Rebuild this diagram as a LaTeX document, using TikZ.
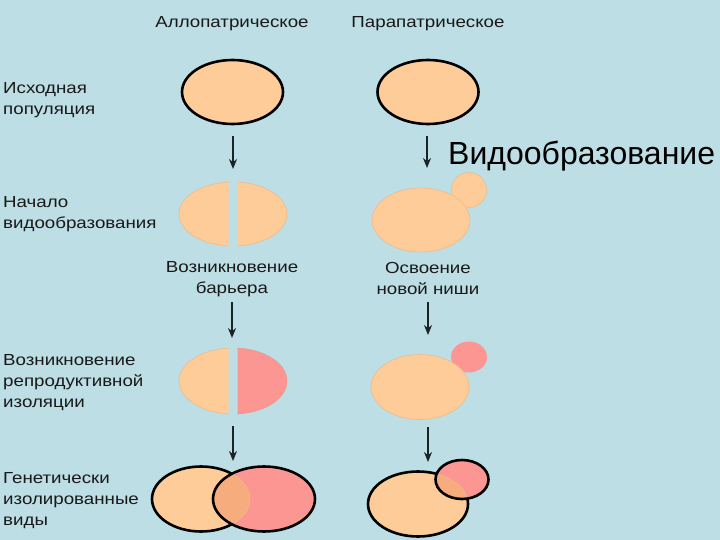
\documentclass[tikz,border=0pt]{standalone}
\usepackage{fontspec}
\setmainfont{Liberation Sans}
\newfontfamily\widesans[FakeStretch=1.17]{Liberation Sans}
\usetikzlibrary{arrows.meta,shapes.geometric}
\definecolor{bg}{RGB}{188,222,228}
\definecolor{org}{RGB}{254,204,153}
\definecolor{pnk}{RGB}{252,150,146}
\definecolor{ovl}{RGB}{246,172,124}
\definecolor{edge}{RGB}{238,186,140}
\definecolor{pedge}{RGB}{236,150,140}
\definecolor{txt}{RGB}{25,25,25}
\definecolor{arc}{RGB}{25,35,40}
\begin{document}
\begin{tikzpicture}[x=1pt,y=-1pt,
  lbl/.style={font=\widesans\fontsize{16}{21}\selectfont, text=txt, align=left, anchor=west, inner sep=0pt},
  head/.style={font=\widesans\fontsize{16}{21}\selectfont, text=txt, align=center, inner sep=0pt},
  captxt/.style={font=\widesans\fontsize{16}{21}\selectfont, text=txt, align=center, inner sep=0pt},
  arr/.style={draw=arc, line width=2pt, -{Stealth[length=10pt,width=8pt]}},
  bold/.style={draw=black, line width=2.6pt},
  thin/.style={draw=edge, line width=0.6pt}]
\fill[bg] (0,0) rectangle (720,540);
\useasboundingbox (0,0) rectangle (720,540);

% headers
\node[head] (hA) at (232,24) {Аллопатрическое};
\node[head] (hP) at (428,24) {Парапатрическое};

% left labels
\node[lbl] (l1) at (3,100.5) {Исходная\\популяция};
\node[lbl] (l2) at (3,214.5) {Начало\\видообразования};
\node[lbl] (l3) at (3,383) {Возникновение\\репродуктивной\\изоляции};
\node[lbl] (l4) at (3,501) {Генетически\\изолированные\\виды};

% title
\node[anchor=base west, inner sep=0pt, font=\fontsize{32}{36}\selectfont, text=black] (title) at (448,165) {Видообразование};

% row 1
\coordinate (A1) at (232.5,92);
\coordinate (P1) at (428,92);
\fill[org] (A1) ellipse [x radius=50.5, y radius=32];
\draw[bold] (A1) ellipse [x radius=50.5, y radius=32];
\fill[org] (P1) ellipse [x radius=50.5, y radius=32];
\draw[bold] (P1) ellipse [x radius=50.5, y radius=32];

% row 2 allo split
\coordinate (A2) at (233,214);
\begin{scope}
  \clip (A2) ++(-60,-40) rectangle ++(55.5,80);
  \fill[org] (A2) ellipse [x radius=54, y radius=32];
  \draw[thin] (A2) ellipse [x radius=54, y radius=32];
\end{scope}
\begin{scope}
  \clip (A2) ++(4.5,-40) rectangle ++(60,80);
  \fill[org] (A2) ellipse [x radius=54, y radius=32];
  \draw[thin] (A2) ellipse [x radius=54, y radius=32];
\end{scope}

% row 2 para
\coordinate (P2) at (421,220);
\coordinate (P2s) at (469,190);
\fill[org] (P2s) circle [radius=17.5];
\draw[thin] (P2s) circle [radius=17.5];
\fill[org] (P2) ellipse [x radius=49, y radius=32];
\draw[thin] (P2) ellipse [x radius=49, y radius=32];

% captions
\node[captxt] (cA) at (232,279) {Возникновение\\барьера};
\node[captxt] (cP) at (428,278.5) {Освоение\\новой ниши};

% row 3 allo
\coordinate (A3) at (233,381);
\begin{scope}
  \clip (A3) ++(-60,-40) rectangle ++(55.5,80);
  \fill[org] (A3) ellipse [x radius=54, y radius=33];
  \draw[thin] (A3) ellipse [x radius=54, y radius=33];
\end{scope}
\begin{scope}
  \clip (A3) ++(4.5,-40) rectangle ++(60,80);
  \fill[pnk] (A3) ellipse [x radius=54, y radius=33];
  \draw[draw=pedge, line width=0.6pt] (A3) ellipse [x radius=54, y radius=33];
\end{scope}

% row 3 para
\coordinate (P3) at (420,387);
\coordinate (P3s) at (469,357);
\fill[pnk] (P3s) ellipse [x radius=18, y radius=15.5];
\fill[org] (P3) ellipse [x radius=49, y radius=32.5];
\draw[thin] (P3) ellipse [x radius=49, y radius=32.5];

% row 4 allo
\coordinate (A4L) at (201,499);
\coordinate (A4R) at (264,499);
\fill[org] (A4L) ellipse [x radius=49, y radius=32.5];
\draw[bold] (A4L) ellipse [x radius=49, y radius=32.5];
\fill[pnk] (A4R) ellipse [x radius=51, y radius=32.5];
\begin{scope}
  \clip (A4R) ellipse [x radius=51, y radius=32.5];
  \fill[ovl] (A4L) ellipse [x radius=49, y radius=32.5];
  \draw[thin] (A4L) ellipse [x radius=49, y radius=32.5];
\end{scope}
\draw[bold] (A4R) ellipse [x radius=51, y radius=32.5];

% row 4 para
\coordinate (P4) at (418,504);
\coordinate (P4s) at (462,479.5);
\fill[org] (P4) ellipse [x radius=50, y radius=32.5];
\draw[bold] (P4) ellipse [x radius=50, y radius=32.5];
\fill[pnk] (P4s) ellipse [x radius=26.5, y radius=19.5];
\begin{scope}
  \clip (P4s) ellipse [x radius=26.5, y radius=19.5];
  \fill[ovl] (P4) ellipse [x radius=50, y radius=32.5];
  \draw[thin] (P4) ellipse [x radius=50, y radius=32.5];
\end{scope}
\draw[bold] (P4s) ellipse [x radius=26.5, y radius=19.5];

% arrows
\coordinate (a1s) at (233,136); \coordinate (a1e) at (233,169);
\coordinate (p1s) at (427,136); \coordinate (p1e) at (427,168);
\coordinate (a2s) at (232,302); \coordinate (a2e) at (232,338);
\coordinate (p2s) at (428,302); \coordinate (p2e) at (428,335);
\coordinate (a3s) at (233,426); \coordinate (a3e) at (233,461);
\coordinate (p3s) at (428,427); \coordinate (p3e) at (428,462);
\draw[arr] (a1s) -- (a1e);
\draw[arr] (p1s) -- (p1e);
\draw[arr] (a2s) -- (a2e);
\draw[arr] (p2s) -- (p2e);
\draw[arr] (a3s) -- (a3e);
\draw[arr] (p3s) -- (p3e);
\end{tikzpicture}
\end{document}
